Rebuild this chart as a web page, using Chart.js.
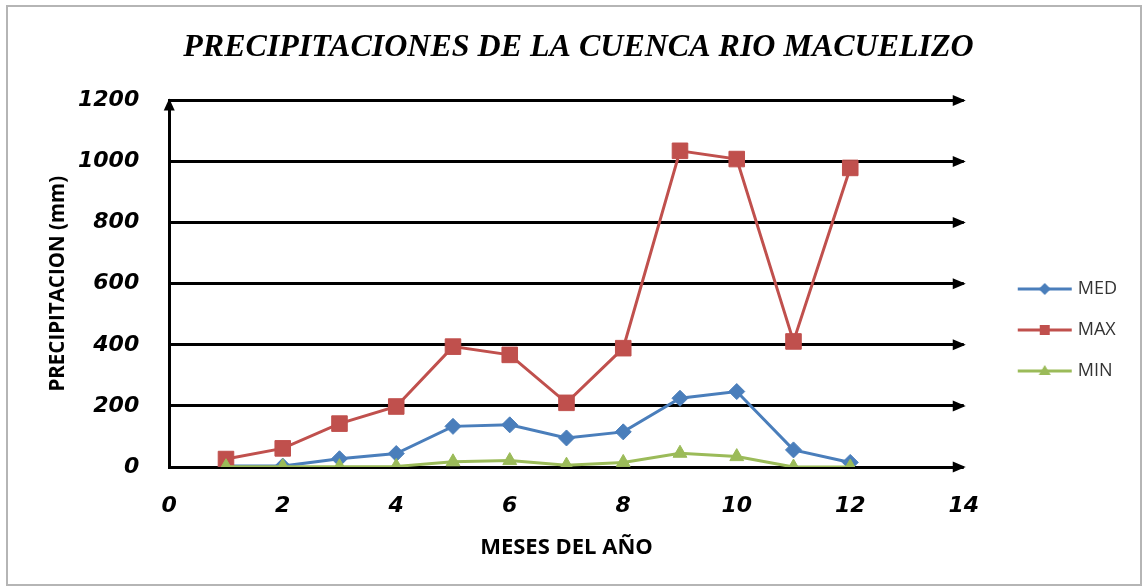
<!DOCTYPE html>
<html>
<head>
<meta charset="utf-8">
<title>Precipitaciones cuenca Rio Macuelizo</title>
<script src="https://cdn.jsdelivr.net/npm/chart.js@4.4.1/dist/chart.umd.min.js"></script>
<style>
    html, body { margin: 0; padding: 0; background: #fff; }
    canvas { display: block; }
</style>
</head>
<body>
<canvas id="lluviaChart" width="1143" height="587"></canvas>
<script>
// datos (mm)
const meses = [1, 2, 3, 4, 5, 6, 7, 8, 9, 10, 11, 12];
const precMed = [3, 3, 27, 44, 133, 138, 95, 115, 225, 247, 56, 15];
const precMax = [26, 61, 142, 198, 394, 367, 210, 389, 1035, 1008, 411, 979];
const precMin = [1, 1, 1, 2, 17, 21, 6, 15, 45, 34, 0, 0];
const xTicks = [0, 2, 4, 6, 8, 10, 12, 14];
const yTicks = [0, 200, 400, 600, 800, 1000, 1200];

const colors = {
    med: '#4a7ebb',
    max: '#c0504d',
    min: '#9bbb59'
};

function toPoints(values) {
    return meses.map((m, i) => ({ x: m, y: values[i] }));
}

// icono de leyenda: linea con marcador al centro
function makeIcon(color, shape) {
    const c = document.createElement('canvas');
    c.width = 90;
    c.height = 20;
    const g = c.getContext('2d');
    g.strokeStyle = color;
    g.fillStyle = color;
    g.lineWidth = 3;
    g.beginPath();
    g.moveTo(35, 10);
    g.lineTo(89, 10);
    g.stroke();
    const cx = 62, cy = 10;
    g.beginPath();
    if (shape === 'rect') {
        g.rect(cx - 5, cy - 5, 10, 10);
    } else if (shape === 'rectRot') {
        g.moveTo(cx, cy - 6);
        g.lineTo(cx + 6, cy);
        g.lineTo(cx, cy + 6);
        g.lineTo(cx - 6, cy);
    } else {
        g.moveTo(cx, cy - 6);
        g.lineTo(cx + 6, cy + 4);
        g.lineTo(cx - 6, cy + 4);
    }
    g.closePath();
    g.fill();
    return c;
}

const icons = [
    makeIcon(colors.med, 'rectRot'),
    makeIcon(colors.max, 'rect'),
    makeIcon(colors.min, 'triangle')
];

// marco gris y fondo blanco
const framePlugin = {
    id: 'frame',
    beforeDraw(chart) {
        const ctx = chart.ctx;
        ctx.save();
        ctx.fillStyle = '#fff';
        ctx.fillRect(0, 0, chart.width, chart.height);
        ctx.strokeStyle = '#b5b5b5';
        ctx.lineWidth = 2;
        ctx.strokeRect(7, 6, chart.width - 9, chart.height - 8);
        ctx.restore();
    }
};

// puntas de flecha en las lineas de la cuadricula y en el eje Y
const arrowPlugin = {
    id: 'arrows',
    afterDraw(chart) {
        const ctx = chart.ctx;
        const xs = chart.scales.x;
        const ys = chart.scales.y;
        ctx.save();
        ctx.fillStyle = '#000';
        ys.ticks.forEach(t => {
            const py = ys.getPixelForValue(t.value);
            ctx.beginPath();
            ctx.moveTo(xs.right + 2, py);
            ctx.lineTo(xs.right - 11, py - 5.5);
            ctx.lineTo(xs.right - 11, py + 5.5);
            ctx.closePath();
            ctx.fill();
        });
        const top = ys.getPixelForValue(yTicks[yTicks.length - 1]);
        const lx = xs.left;
        ctx.beginPath();
        ctx.moveTo(lx, top - 2);
        ctx.lineTo(lx - 5.5, top + 10);
        ctx.lineTo(lx + 5.5, top + 10);
        ctx.closePath();
        ctx.fill();
        ctx.restore();
    }
};

const tickFont = { family: 'DejaVu Sans', size: 22, style: 'italic', weight: 'bold' };

new Chart(document.getElementById('lluviaChart'), {
    type: 'line',
    data: {
        datasets: [
            {
                label: 'MED',
                data: toPoints(precMed),
                borderColor: colors.med,
                backgroundColor: colors.med,
                borderWidth: 3,
                pointStyle: 'rectRot',
                pointRadius: 8,
                pointBorderWidth: 1,
                order: 3
            },
            {
                label: 'MAX',
                data: toPoints(precMax),
                borderColor: colors.max,
                backgroundColor: colors.max,
                borderWidth: 3,
                pointStyle: 'rect',
                pointRadius: 11,
                pointBorderWidth: 1,
                order: 2
            },
            {
                label: 'MIN',
                data: toPoints(precMin),
                borderColor: colors.min,
                backgroundColor: colors.min,
                borderWidth: 3,
                pointStyle: 'triangle',
                pointRadius: 8,
                pointBorderWidth: 1,
                order: 1
            }
        ]
    },
    options: {
        responsive: false,
        animation: false,
        layout: { padding: { top: 10, right: 16, bottom: 10, left: 30 } },
        plugins: {
            title: {
                display: true,
                text: 'PRECIPITACIONES DE LA CUENCA RIO MACUELIZO',
                color: '#000',
                font: { family: 'Liberation Serif', size: 32, style: 'italic', weight: 'bold', lineHeight: 1.2 },
                padding: { top: 19, bottom: 33 }
            },
            legend: {
                position: 'right',
                align: 'center',
                title: { display: true, text: '', font: { size: 12, lineHeight: 1 }, padding: { top: 61, bottom: 0 } },
                labels: {
                    usePointStyle: true,
                    pointStyleWidth: 82,
                    padding: 23,
                    color: '#333',
                    font: { family: 'Open Sans', size: 18 },
                    generateLabels: chart => chart.data.datasets.map((ds, i) => ({
                        text: ds.label,
                        pointStyle: icons[i],
                        datasetIndex: i,
                        hidden: false,
                        lineWidth: 0,
                        strokeStyle: 'rgba(0,0,0,0)',
                        fillStyle: 'rgba(0,0,0,0)',
                        fontColor: '#333'
                    }))
                }
            },
            tooltip: { enabled: false }
        },
        scales: {
            x: {
                type: 'linear',
                min: xTicks[0],
                max: xTicks[xTicks.length - 1],
                grid: { display: false, drawTicks: false },
                border: { display: false },
                ticks: {
                    stepSize: 2,
                    padding: 26,
                    color: '#000',
                    font: tickFont,
                    callback: v => String(v)
                },
                afterBuildTicks: axis => { axis.ticks = xTicks.map(v => ({ value: v })); },
                title: {
                    display: true,
                    text: 'MESES DEL AÑO',
                    color: '#000',
                    font: { family: 'Open Sans', size: 22, weight: 'bold' },
                    padding: { top: -10.6, bottom: 15.8 }
                }
            },
            y: {
                min: yTicks[0],
                max: yTicks[yTicks.length - 1],
                grid: { color: '#000', lineWidth: 3, drawTicks: false },
                border: { display: true, color: '#000', width: 3 },
                ticks: {
                    stepSize: 200,
                    padding: 30,
                    color: '#000',
                    font: tickFont,
                    callback: v => String(v)
                },
                afterBuildTicks: axis => { axis.ticks = yTicks.map(v => ({ value: v })); },
                title: {
                    display: true,
                    text: 'PRECIPITACION (mm)',
                    color: '#000',
                    font: { family: 'Open Sans', size: 20.5, weight: 'bold' },
                    padding: { top: 15.7, bottom: -22.3 }
                }
            }
        }
    },
    plugins: [framePlugin, arrowPlugin]
});
</script>
</body>
</html>
